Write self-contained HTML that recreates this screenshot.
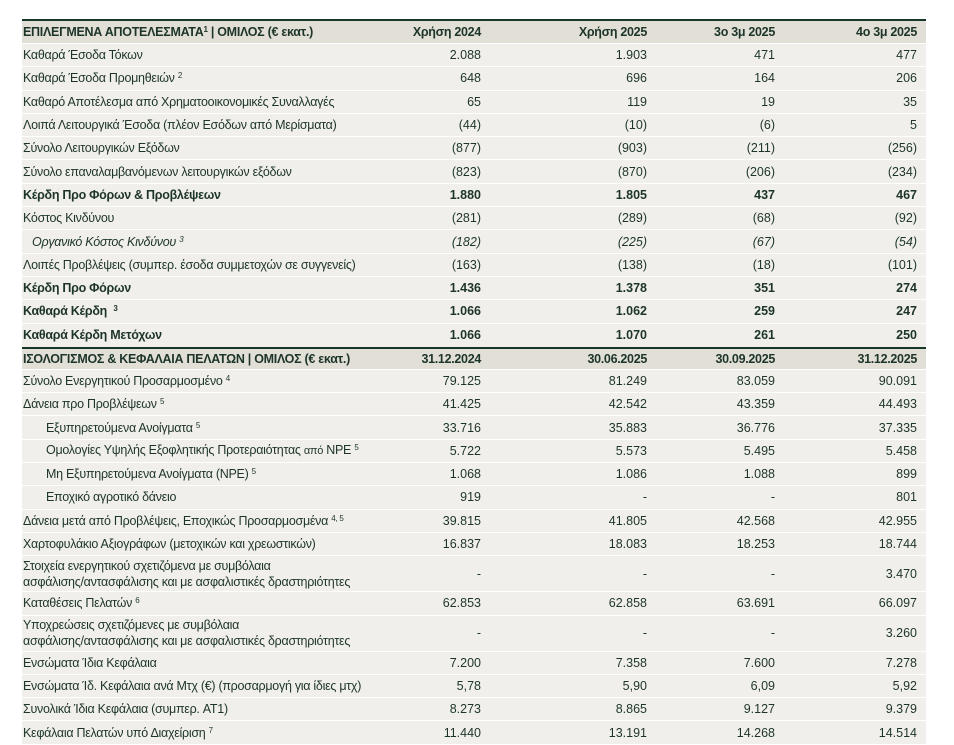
<!DOCTYPE html>
<html><head><meta charset="utf-8"><style>
body{margin:0;width:954px;height:741px;background:#fff;overflow:hidden;font-family:"Liberation Sans","DejaVu Sans",sans-serif;font-size:12.5px;color:#1d3529}
.t{position:absolute;left:22px;top:19px;width:904px;border-top:2px solid #17372a}
.r{display:flex;align-items:center;background:#f1efeb;border-bottom:1.5px solid #fff;box-sizing:border-box;height:23.3px}
.l{letter-spacing:-0.28px}
.h{background:#e2dfd6;font-weight:bold;letter-spacing:-0.3px;height:23px}
.b{font-weight:bold}
.i{font-style:italic}
.l{flex:1;padding-left:1px;line-height:16px}
.c{text-align:right;box-sizing:border-box}
.c1{width:100px}
.c2{width:166px}
.c3{width:128px}
.c4{width:151px;padding-right:9px}
.in{padding-left:24px}
.ii{padding-left:10px}
.tt{height:36px}
.sep{border-top:2px solid #17372a}
sup{font-size:8px;vertical-align:4px;line-height:0}
</style></head><body>
<div class="t">
<div class="r h"><div class="l">ΕΠΙΛΕΓΜΕΝΑ ΑΠΟΤΕΛΕΣΜΑΤΑ<sup>1</sup> | ΟΜΙΛΟΣ (€ εκατ.)</div><div class="c c1">Χρήση 2024</div><div class="c c2">Χρήση 2025</div><div class="c c3">3ο 3μ 2025</div><div class="c c4">4ο 3μ 2025</div></div>
<div class="r"><div class="l">Καθαρά Έσοδα Τόκων</div><div class="c c1">2.088</div><div class="c c2">1.903</div><div class="c c3">471</div><div class="c c4">477</div></div>
<div class="r"><div class="l">Καθαρά Έσοδα Προμηθειών <sup>2</sup></div><div class="c c1">648</div><div class="c c2">696</div><div class="c c3">164</div><div class="c c4">206</div></div>
<div class="r"><div class="l">Καθαρό Αποτέλεσμα από Χρηματοοικονομικές Συναλλαγές</div><div class="c c1">65</div><div class="c c2">119</div><div class="c c3">19</div><div class="c c4">35</div></div>
<div class="r"><div class="l">Λοιπά Λειτουργικά Έσοδα (πλέον Εσόδων από Μερίσματα)</div><div class="c c1">(44)</div><div class="c c2">(10)</div><div class="c c3">(6)</div><div class="c c4">5</div></div>
<div class="r"><div class="l">Σύνολο Λειτουργικών Εξόδων</div><div class="c c1">(877)</div><div class="c c2">(903)</div><div class="c c3">(211)</div><div class="c c4">(256)</div></div>
<div class="r"><div class="l">Σύνολο επαναλαμβανόμενων λειτουργικών εξόδων</div><div class="c c1">(823)</div><div class="c c2">(870)</div><div class="c c3">(206)</div><div class="c c4">(234)</div></div>
<div class="r b"><div class="l">Κέρδη Προ Φόρων &amp; Προβλέψεων</div><div class="c c1">1.880</div><div class="c c2">1.805</div><div class="c c3">437</div><div class="c c4">467</div></div>
<div class="r"><div class="l">Κόστος Κινδύνου</div><div class="c c1">(281)</div><div class="c c2">(289)</div><div class="c c3">(68)</div><div class="c c4">(92)</div></div>
<div class="r i"><div class="l ii">Οργανικό Κόστος Κινδύνου <sup>3</sup></div><div class="c c1">(182)</div><div class="c c2">(225)</div><div class="c c3">(67)</div><div class="c c4">(54)</div></div>
<div class="r"><div class="l">Λοιπές Προβλέψεις (συμπερ. έσοδα συμμετοχών σε συγγενείς)</div><div class="c c1">(163)</div><div class="c c2">(138)</div><div class="c c3">(18)</div><div class="c c4">(101)</div></div>
<div class="r b"><div class="l">Κέρδη Προ Φόρων</div><div class="c c1">1.436</div><div class="c c2">1.378</div><div class="c c3">351</div><div class="c c4">274</div></div>
<div class="r b"><div class="l">Καθαρά Κέρδη &nbsp;<sup>3</sup></div><div class="c c1">1.066</div><div class="c c2">1.062</div><div class="c c3">259</div><div class="c c4">247</div></div>
<div class="r b" style="border-bottom:0"><div class="l">Καθαρά Κέρδη Μετόχων</div><div class="c c1">1.066</div><div class="c c2">1.070</div><div class="c c3">261</div><div class="c c4">250</div></div>
<div class="r h sep"><div class="l">ΙΣΟΛΟΓΙΣΜΟΣ &amp; ΚΕΦΑΛΑΙΑ ΠΕΛΑΤΩΝ | ΟΜΙΛΟΣ (€ εκατ.)</div><div class="c c1">31.12.2024</div><div class="c c2">30.06.2025</div><div class="c c3">30.09.2025</div><div class="c c4">31.12.2025</div></div>
<div class="r"><div class="l">Σύνολο Ενεργητικού Προσαρμοσμένο <sup>4</sup></div><div class="c c1">79.125</div><div class="c c2">81.249</div><div class="c c3">83.059</div><div class="c c4">90.091</div></div>
<div class="r"><div class="l">Δάνεια προ Προβλέψεων <sup>5</sup></div><div class="c c1">41.425</div><div class="c c2">42.542</div><div class="c c3">43.359</div><div class="c c4">44.493</div></div>
<div class="r"><div class="l in">Εξυπηρετούμενα Ανοίγματα <sup>5</sup></div><div class="c c1">33.716</div><div class="c c2">35.883</div><div class="c c3">36.776</div><div class="c c4">37.335</div></div>
<div class="r"><div class="l in">Ομολογίες Υψηλής Εξοφλητικής Προτεραιότητας <span style="font-size:11px">από</span> NPE <sup>5</sup></div><div class="c c1">5.722</div><div class="c c2">5.573</div><div class="c c3">5.495</div><div class="c c4">5.458</div></div>
<div class="r"><div class="l in">Μη Εξυπηρετούμενα Ανοίγματα (NPE) <sup>5</sup></div><div class="c c1">1.068</div><div class="c c2">1.086</div><div class="c c3">1.088</div><div class="c c4">899</div></div>
<div class="r"><div class="l in">Εποχικό αγροτικό δάνειο</div><div class="c c1">919</div><div class="c c2">-</div><div class="c c3">-</div><div class="c c4">801</div></div>
<div class="r"><div class="l">Δάνεια μετά από Προβλέψεις, Εποχικώς Προσαρμοσμένα <sup>4, 5</sup></div><div class="c c1">39.815</div><div class="c c2">41.805</div><div class="c c3">42.568</div><div class="c c4">42.955</div></div>
<div class="r"><div class="l">Χαρτοφυλάκιο Αξιογράφων (μετοχικών και χρεωστικών)</div><div class="c c1">16.837</div><div class="c c2">18.083</div><div class="c c3">18.253</div><div class="c c4">18.744</div></div>
<div class="r tt"><div class="l">Στοιχεία ενεργητικού σχετιζόμενα με συμβόλαια<br>ασφάλισης/αντασφάλισης και με ασφαλιστικές δραστηριότητες</div><div class="c c1">-</div><div class="c c2">-</div><div class="c c3">-</div><div class="c c4">3.470</div></div>
<div class="r"><div class="l">Καταθέσεις Πελατών <sup>6</sup></div><div class="c c1">62.853</div><div class="c c2">62.858</div><div class="c c3">63.691</div><div class="c c4">66.097</div></div>
<div class="r tt"><div class="l">Υποχρεώσεις σχετιζόμενες με συμβόλαια<br>ασφάλισης/αντασφάλισης και με ασφαλιστικές δραστηριότητες</div><div class="c c1">-</div><div class="c c2">-</div><div class="c c3">-</div><div class="c c4">3.260</div></div>
<div class="r"><div class="l">Ενσώματα Ίδια Κεφάλαια</div><div class="c c1">7.200</div><div class="c c2">7.358</div><div class="c c3">7.600</div><div class="c c4">7.278</div></div>
<div class="r"><div class="l">Ενσώματα Ίδ. Κεφάλαια ανά Μτχ (€) (προσαρμογή για ίδιες μτχ)</div><div class="c c1">5,78</div><div class="c c2">5,90</div><div class="c c3">6,09</div><div class="c c4">5,92</div></div>
<div class="r"><div class="l">Συνολικά Ίδια Κεφάλαια (συμπερ. AT1)</div><div class="c c1">8.273</div><div class="c c2">8.865</div><div class="c c3">9.127</div><div class="c c4">9.379</div></div>
<div class="r"><div class="l">Κεφάλαια Πελατών υπό Διαχείριση <sup>7</sup></div><div class="c c1">11.440</div><div class="c c2">13.191</div><div class="c c3">14.268</div><div class="c c4">14.514</div></div>
</div>
</body></html>
